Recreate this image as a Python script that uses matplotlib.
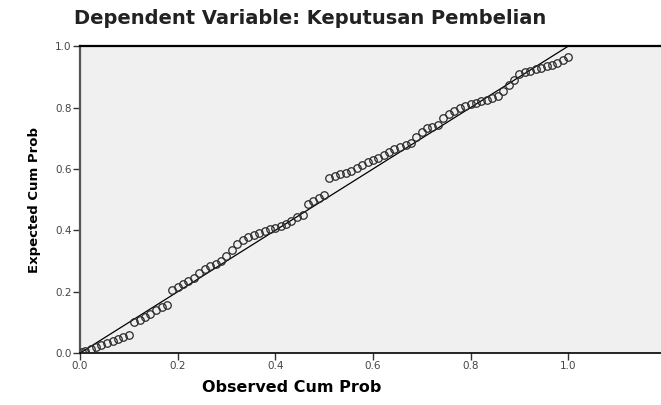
import matplotlib
matplotlib.use("Agg")
import matplotlib.pyplot as plt

# Normal P-P plot of regression standardized residual
observed = [0.004, 0.011, 0.022, 0.033, 0.044, 0.056, 0.067, 0.078, 0.089, 0.100,
            0.111, 0.122, 0.133, 0.144, 0.156, 0.167, 0.178, 0.189, 0.200, 0.211,
            0.222, 0.233, 0.244, 0.256, 0.267, 0.278, 0.289, 0.300, 0.311, 0.322,
            0.333, 0.344, 0.356, 0.367, 0.378, 0.389, 0.400, 0.411, 0.422, 0.433,
            0.444, 0.456, 0.467, 0.478, 0.489, 0.500, 0.511, 0.522, 0.533, 0.544,
            0.556, 0.567, 0.578, 0.589, 0.600, 0.611, 0.622, 0.633, 0.644, 0.656,
            0.667, 0.678, 0.689, 0.700, 0.711, 0.722, 0.733, 0.744, 0.756, 0.767,
            0.778, 0.789, 0.800, 0.811, 0.822, 0.833, 0.844, 0.856, 0.867, 0.878,
            0.889, 0.900, 0.911, 0.922, 0.933, 0.944, 0.956, 0.967, 0.978, 0.989,
            1.000]
expected = [0.004, 0.008, 0.014, 0.020, 0.026, 0.032, 0.038, 0.045, 0.052, 0.060,
            0.100, 0.108, 0.118, 0.128, 0.142, 0.150, 0.156, 0.205, 0.215, 0.225,
            0.235, 0.245, 0.260, 0.275, 0.285, 0.290, 0.300, 0.315, 0.335, 0.355,
            0.370, 0.378, 0.385, 0.392, 0.398, 0.403, 0.408, 0.415, 0.422, 0.432,
            0.445, 0.450, 0.485, 0.495, 0.505, 0.515, 0.570, 0.578, 0.583, 0.588,
            0.595, 0.603, 0.612, 0.622, 0.630, 0.636, 0.645, 0.655, 0.665, 0.672,
            0.678, 0.685, 0.705, 0.722, 0.732, 0.738, 0.743, 0.765, 0.780, 0.790,
            0.798, 0.805, 0.810, 0.815, 0.820, 0.826, 0.832, 0.838, 0.855, 0.875,
            0.890, 0.910, 0.915, 0.920, 0.925, 0.930, 0.935, 0.940, 0.945, 0.955,
            0.965]
ticks = [0.0, 0.2, 0.4, 0.6, 0.8, 1.0]
tick_labels = ["0.0", "0.2", "0.4", "0.6", "0.8", "1.0"]

fig = plt.figure(figsize=(6.61, 4.05), dpi=100)
ax = fig.add_axes([0.121, 0.128, 0.879, 0.758])
ax.set_facecolor("#f0f0f0")

ax.plot([0, 1], [0, 1], color="black", lw=0.9, zorder=2)
ax.plot(observed, expected, ls="none", marker="o", ms=5.4, mfc="none",
        mec="#2a2a2a", mew=0.9, zorder=3)

ax.set_xlim(0, 1.19)
ax.set_ylim(0, 1.0)
ax.set_xticks(ticks)
ax.set_xticklabels(tick_labels)
ax.set_yticks(ticks)
ax.set_yticklabels(tick_labels)
ax.tick_params(direction="out", length=5, width=1, labelsize=7.5,
               labelcolor="#444444", color="#333333", pad=1)

ax.spines["right"].set_visible(False)
ax.spines["top"].set_linewidth(1.6)
ax.spines["left"].set_linewidth(1.6)
ax.spines["left"].set_color("#555555")
ax.spines["bottom"].set_linewidth(1.2)

ax.set_xlabel("Observed Cum Prob", fontsize=11.5, weight="bold", x=0.365,
              labelpad=6)
ax.set_ylabel("Expected Cum Prob", fontsize=9.5, weight="bold", labelpad=10)
fig.text(0.469, 0.955, "Dependent Variable: Keputusan Pembelian",
         fontsize=14, weight="bold", ha="center", va="center", color="#222222")

fig.savefig("out.png", dpi=100)
